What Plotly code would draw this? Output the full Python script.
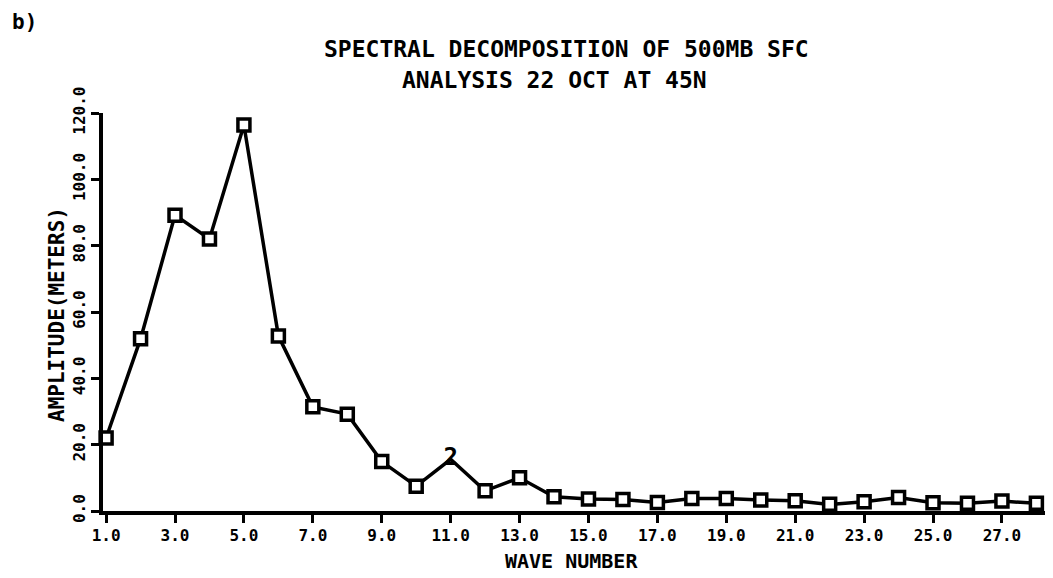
import plotly.graph_objects as go

# Spectral amplitude of the 500 mb surface by zonal wave number
wave_number = list(range(1, 29))
amplitude_m = [22.0, 51.9, 89.2, 82.0, 116.4, 52.8, 31.4, 29.2, 14.9, 7.5,
               15.6, 6.1, 10.0, 4.3, 3.6, 3.5, 2.6, 3.8, 3.8, 3.3,
               3.1, 2.0, 2.8, 4.1, 2.5, 2.3, 3.0, 2.3]
# wave 11 is plotted with the digit "2" instead of a box symbol
digit_wave = 11
digit_symbol = "2"

x_ticks = list(range(1, 28, 2))
y_ticks = [0, 20, 40, 60, 80, 100, 120]

W, H = 1053, 578
L, R, T, B = 103, 8, 113, 67
PW, PH = W - L - R, H - T - B

def px(x):
    return (x - L) / PW

def py(y):
    return (H - B - y) / PH

FONT = "DejaVu Sans Mono"
INK = "#000000"

sizes = [0 if w == digit_wave else 12 for w in wave_number]

fig = go.Figure()
fig.add_trace(go.Scatter(
    x=wave_number, y=amplitude_m, mode="lines",
    line=dict(color=INK, width=3.5),
    cliponaxis=False, showlegend=False, hoverinfo="x+y",
))
fig.add_trace(go.Scatter(
    x=wave_number, y=amplitude_m, mode="markers",
    marker=dict(symbol="square", size=sizes, color="white", opacity=1,
                line=dict(color=INK, width=3.5)),
    cliponaxis=False, showlegend=False, hoverinfo="skip",
))
fig.add_trace(go.Scatter(
    x=[digit_wave], y=[amplitude_m[wave_number.index(digit_wave)]],
    mode="text", text=[digit_symbol],
    textfont=dict(family=FONT, size=24, color=INK, weight="bold"),
    textposition="middle center", cliponaxis=False, showlegend=False,
))

axis_common = dict(
    showgrid=False, zeroline=False, showline=True, linecolor=INK, linewidth=3.5,
    ticks="outside", ticklen=8, tickwidth=3, tickcolor=INK,
    tickfont=dict(family=FONT, size=16, color=INK, weight="bold"),
    tickformat=".1f",
)

fig.update_xaxes(range=[0.91, 28.25], tickvals=x_ticks, ticklabelstandoff=-1,
                 **axis_common)
fig.update_yaxes(range=[0, 120], tickvals=y_ticks, tickangle=-90, **axis_common)

ann = [
    dict(text="b)", x=px(24), y=py(22), size=21),
    dict(text="SPECTRAL DECOMPOSITION OF 500MB SFC", x=px(566), y=py(49), size=23),
    dict(text="ANALYSIS 22 OCT AT 45N", x=px(554), y=py(80), size=23),
    dict(text="WAVE NUMBER", x=px(571), y=py(561), size=20),
    dict(text="AMPLITUDE(METERS)", x=px(57), y=py(315), size=21, angle=-90),
]
for a in ann:
    fig.add_annotation(
        text=a["text"], x=a["x"], y=a["y"], xref="paper", yref="paper",
        xanchor="center", yanchor="middle", showarrow=False,
        textangle=a.get("angle", 0),
        font=dict(family=FONT, size=a["size"], color=INK, weight="bold"),
    )

fig.update_layout(
    width=W, height=H, margin=dict(l=L, r=R, t=T, b=B),
    paper_bgcolor="white", plot_bgcolor="white",
)

fig.write_html("out.html")
